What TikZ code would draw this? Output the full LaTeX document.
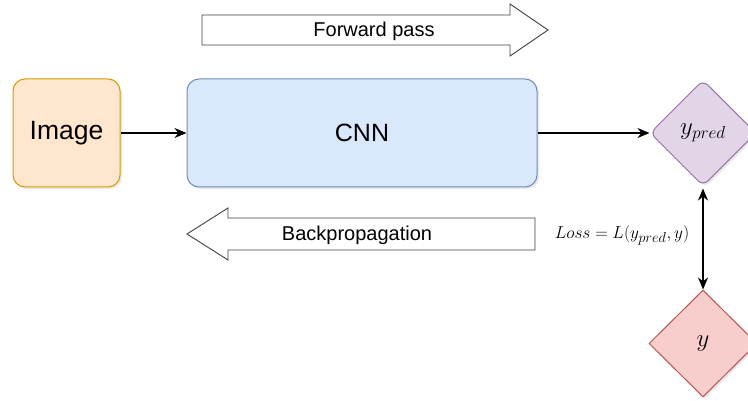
\documentclass[tikz,border=0pt]{standalone}
\usepackage[no-math]{fontspec}
\setmainfont{Liberation Sans}
\usetikzlibrary{shapes.geometric,arrows.meta,shadows}
\definecolor{imgfill}{HTML}{FFE6CC}
\definecolor{imgdraw}{HTML}{D79B00}
\definecolor{cnnfill}{HTML}{DAE8FC}
\definecolor{cnndraw}{HTML}{6C8EBF}
\definecolor{predfill}{HTML}{E1D5E7}
\definecolor{preddraw}{HTML}{9673A6}
\definecolor{yfill}{HTML}{F8CECC}
\definecolor{ydraw}{HTML}{B85450}
\tikzset{
  shade/.style={drop shadow={opacity=0.18, shadow xshift=2pt, shadow yshift=-2pt}},
  box/.style={rectangle, rounded corners=12pt, line width=1pt, inner sep=0pt, shade, font=\fontsize{25}{28}\selectfont},
  dia/.style={diamond, aspect=1, inner sep=0pt, line width=1pt, shade, font=\fontsize{26}{28}\selectfont},
  conn/.style={line width=1.6pt, -{Stealth[length=12pt, width=10pt]}},
  bigarrow/.style={draw=black!75, line width=0.9pt, fill=white},
  arrowtext/.style={font=\fontsize{20}{24}\selectfont, inner sep=0pt}
}
\begin{document}
\begin{tikzpicture}[x=1pt, y=-1pt]
\useasboundingbox (0,0) rectangle (748,401);
\begin{scope}
\clip (0,0) rectangle (748,401);
% Big arrows
\draw[bigarrow] (202,15) -- (510,15) -- (510,4) -- (548,30) -- (510,56) -- (510,45) -- (202,45) -- cycle;
\node[arrowtext] (fwd) at (374,31) {Forward pass};
\draw[bigarrow] (535,218) -- (228,218) -- (228,208) -- (187,234) -- (228,260) -- (228,250) -- (535,250) -- cycle;
\node[arrowtext] (bwd) at (357,235) {Backpropagation};
% Main nodes
\node[box, fill=imgfill, draw=imgdraw, minimum width=107pt, minimum height=108pt, font=\fontsize{26.5}{28}\selectfont] (img) at (66.5,133) {Image};
\node[box, fill=cnnfill, draw=cnndraw, minimum width=350pt, minimum height=108pt] (cnn) at (362,133) {CNN};
\node[dia, fill=predfill, draw=preddraw, rounded corners=7pt, minimum width=106pt, minimum height=106pt] (yp) at (703,133) {$y_{pred}$};
\node[dia, fill=yfill, draw=ydraw, minimum width=108pt, minimum height=107pt] (y) at (703,343.5) {$y$};
% Connectors
\draw[conn] (img.east) -- (cnn.west);
\draw[conn] (cnn.east) -- (yp.west);
\draw[line width=1.6pt, {Stealth[length=12pt, width=10pt]}-{Stealth[length=12pt, width=10pt]}] ([yshift=-2pt]yp.south) -- (y.north);
\node[inner sep=0pt, font=\fontsize{19}{21}\selectfont] (loss) at (622,235) {$Loss = L(y_{pred}, y)$};
\end{scope}
\end{tikzpicture}
\end{document}
